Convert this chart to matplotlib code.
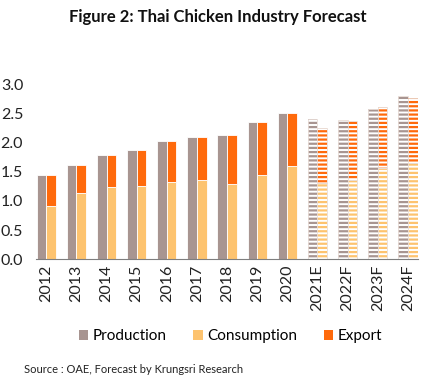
import matplotlib.pyplot as plt
import numpy as np

plt.rcParams['font.family'] = ['Lato', 'DejaVu Sans']

years = ['2012', '2013', '2014', '2015', '2016', '2017', '2018', '2019', '2020',
         '2021E', '2022F', '2023F', '2024F']
production = [1.45, 1.62, 1.79, 1.87, 2.02, 2.10, 2.12, 2.35, 2.50, 2.40, 2.38, 2.57, 2.79]
consumption = [0.91, 1.14, 1.24, 1.26, 1.33, 1.35, 1.28, 1.45, 1.60, 1.31, 1.35, 1.57, 1.65]
export = [0.54, 0.48, 0.55, 0.61, 0.69, 0.75, 0.84, 0.90, 0.90, 0.94, 1.02, 1.04, 1.12]
n_actual = 9

c_prod = '#a89591'
c_cons = '#fdc36f'
c_exp = '#ff6a0c'

fig = plt.figure(figsize=(4.35, 3.84), dpi=100)
ax = fig.add_axes([0.082, 0.325, 0.88, 0.456])

x = np.arange(len(years))
w = 0.32
plt.rcParams['hatch.linewidth'] = 1.6
for i in range(len(years)):
    if i < n_actual:
        ax.bar(x[i] - w/2, production[i], w, color=c_prod, edgecolor='white', linewidth=0.6)
        ax.bar(x[i] + w/2, consumption[i], w, color=c_cons, edgecolor='white', linewidth=0.6)
        ax.bar(x[i] + w/2, export[i], w, bottom=consumption[i], color=c_exp,
               edgecolor='white', linewidth=0.6)
    else:
        for xx, h, b, c in [(x[i] - w/2, production[i], 0, c_prod),
                            (x[i] + w/2, consumption[i], 0, c_cons),
                            (x[i] + w/2, export[i], consumption[i], c_exp)]:
            ax.bar(xx, h, w, bottom=b, color='white', edgecolor=c, hatch='----', linewidth=0)
            ax.bar(xx, h, w, bottom=b, fill=False, edgecolor='#e8dcd6', linewidth=0.6)

# legend handles
ax.bar(0, 0, 0, color=c_prod, label='Production')
ax.bar(0, 0, 0, color=c_cons, label='Consumption')
ax.bar(0, 0, 0, color=c_exp, label='Export')

ax.set_xlim(-0.35, 12.35)
ax.set_ylim(0, 3.0)
ax.set_yticks(np.arange(0, 3.01, 0.5))
ax.set_yticklabels([f'{v:.1f}' for v in np.arange(0, 3.01, 0.5)], fontsize=11.5, color='#222222')
ax.set_xticks(x)
ax.set_xticklabels(years, rotation=90, fontsize=11.5, color='#222222')
ax.tick_params(axis='x', length=0, pad=4)
ax.tick_params(axis='y', length=0, pad=9)
for s in ['top', 'right', 'left']:
    ax.spines[s].set_visible(False)
ax.spines['bottom'].set_color('#7f7f7f')

fig.text(0.5, 0.955, 'Figure 2: Thai Chicken Industry Forecast', ha='center', va='center',
         fontsize=12, fontweight='bold', color='#111111')
fig.legend(loc='center', bbox_to_anchor=(0.53, 0.125), ncol=3, frameon=False, fontsize=11,
           handlelength=0.65, handleheight=0.65, handletextpad=0.3, columnspacing=1.7)
fig.text(0.055, 0.038, 'Source : OAE, Forecast by Krungsri Research', fontsize=8,
         color='#222222', va='center')

fig.savefig('out.png', dpi=100)
